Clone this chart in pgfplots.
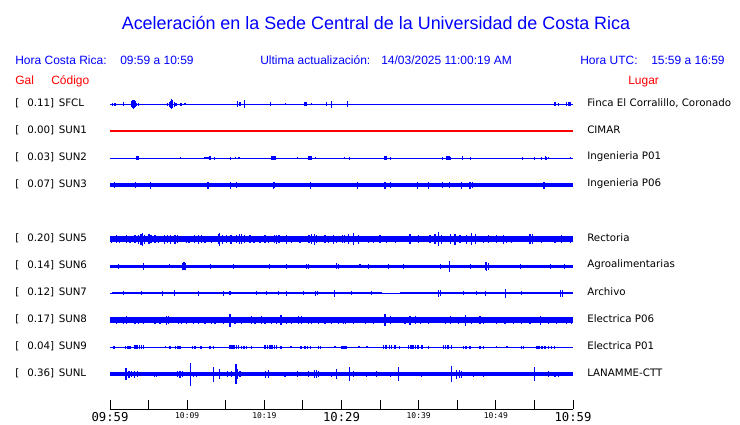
\documentclass[border=0pt]{standalone}
\usepackage{pgfplots}
\pgfplotsset{compat=1.18}
\usepackage{fontspec}
\setmainfont{DejaVu Sans}
\newfontfamily\arial{Liberation Sans}
\newfontfamily\mono{DejaVu Sans Mono}
\definecolor{pred}{RGB}{255,0,0}
\definecolor{pblue}{RGB}{0,0,255}
\newcommand\bigt[1]{{\mono\fontsize{9.2}{10}\selectfont #1}}
\newcommand\smt[1]{{\mono\fontsize{6}{7}\selectfont #1}}
\pgfplotsset{trace/.style={color=pblue, mark=none, line width=#1,
  error bars/y dir=both, error bars/y explicit, error bars/error mark=none,
  error bars/error bar style={line width=0.8pt, color=pblue}}}
\begin{document}
\begin{tikzpicture}[x=0.75pt,y=0.75pt]
\path (0,0) rectangle (740,423);
\begin{axis}[at={(82.5pt,10.4pt)}, anchor=south west, x=5.7875pt, y=0.75pt,
  xmin=0, xmax=60, ymin=15, ymax=333, clip=false,
  axis x line=bottom, axis y line=none, ytick=\empty,
  xtick={0,5,...,60},
  xticklabels={\bigt{09:59},{},\smt{10:09},{},\smt{10:19},{},\bigt{10:29},{},\smt{10:39},{},\smt{10:49},{},\bigt{10:59}},
  tick align=inside, major tick length=6.75pt,
  axis line style={black, line width=0.75pt, -},
  tick style={black, line width=0.75pt},
  xticklabel style={inner sep=2pt}]
% SFCL
\addplot[trace=0.9pt] coordinates {
(0,320) +- (0,0) (0.3,320) +- (0,1.5) (0.65,320) +- (0,1.5) (1.7,320) +- (0,2)
(2.85,320) +- (0,3) (2.95,320) +- (0,4) (3.05,320) +- (0,4.5) (3.15,320) +- (0,4) (3.25,320) +- (0,3) (3.35,320) +- (0,2) (3.45,320) +- (0,1.5)
(3.7,320) +- (0,1.5) (7.47,320) +- (0,1.5)
(7.7,320) +- (0,2.5) (7.85,320) +- (0,3.5) (7.95,320) +- (0,5) (8.05,320) +- (0,4) (8.15,320) +- (0,3.5) (8.3,320) +- (0,2.5) (8.45,320) +- (0,1.5) (8.6,320) +- (0,1.5)
(9.2,320) +- (0,1.5) (9.72,320) +- (0,1.2) (16.54,320) +- (0,3) (16.85,320) +- (0,1.8) (16.95,320) +- (0,1.8) (17.49,320) +- (0,4)
(20.82,320) +- (0,2) (22.72,320) +- (0,1.2) (25.27,320) +- (0,2) (25.4,320) +- (0,2) (26.13,320) +- (0,1.2) (28.08,320) +- (0,2) (28.73,320) +- (0,3.5)
(30.76,320) +- (0,3) (57.67,320) +- (0,2) (58.1,320) +- (0,1.5) (59.1,320) +- (0,2) (59.4,320) +- (0,2) (59.55,320) +- (0,2) (59.7,320) +- (0,2)
(60,320) +- (0,0)};
% SUN1
\addplot[color=pred, line width=1pt, mark=none] coordinates {(0,293) (60,293)};
% SUN2
\addplot[trace=0.9pt] coordinates {
(0,266) +- (0,0) (3.4,266) +- (0,1.8) (3.55,266) +- (0,1.8) (3.7,266) +- (0,1.8) (9.16,266) +- (0,1.2)
(12.31,266) +- (0,1) (12.5,266) +- (0,1) (12.7,266) +- (0,1) (12.96,266) +- (0,2) (13.52,266) +- (0,1.5) (15.64,266) +- (0,1.5) (16.28,266) +- (0,1.2) (16.72,266) +- (0,1.2)
(20.95,266) +- (0,1.8) (21.1,266) +- (0,1.8) (21.25,266) +- (0,1.8) (21.4,266) +- (0,1.8) (24.28,266) +- (0,0.8)
(25.79,266) +- (0,1.8) (25.95,266) +- (0,1.8) (26.1,266) +- (0,1.8) (26.57,266) +- (0,1.2) (30.37,266) +- (0,1.2) (31.02,266) +- (0,1.5)
(35.64,266) +- (0,1.8) (35.8,266) +- (0,1.8) (36.29,266) +- (0,1.5) (43.12,266) +- (0,1.5) (43.63,266) +- (0,1.8) (43.8,266) +- (0,1.8) (43.97,266) +- (0,1.8) (44.1,266) +- (0,1.5)
(45.62,266) +- (0,1.8) (45.72,266) +- (0,1.8) (46.66,266) +- (0,1.5) (53.44,266) +- (0,1.5) (55.0,266) +- (0,1.5) (55.95,266) +- (0,1.5) (56.38,266) +- (0,1.8) (56.5,266) +- (0,1.5) (56.81,266) +- (0,1) (59.62,266) +- (0,1)
(60,266) +- (0,0)};
% SUN3
\addplot[trace=2.7pt] coordinates {
(0,239) +- (0,0) (0.56,239) +- (0,3) (3.32,239) +- (0,3) (5.27,239) +- (0,3.5) (12.6,239) +- (0,3.5) (12.7,239) +- (0,3.5) (15.64,239) +- (0,3.5) (16.37,239) +- (0,3)
(21.17,239) +- (0,3.5) (21.25,239) +- (0,3) (25.98,239) +- (0,3.5) (32.06,239) +- (0,3.5) (35.64,239) +- (0,3.5) (36.29,239) +- (0,3) (39.88,239) +- (0,3.5) (41.26,239) +- (0,3.5)
(43.07,239) +- (0,3) (43.98,239) +- (0,3) (45.6,239) +- (0,3.5) (46.57,239) +- (0,3.5) (46.75,239) +- (0,3.5) (46.95,239) +- (0,3) (56.16,239) +- (0,3.5) (56.3,239) +- (0,3.5)
(60,239) +- (0,0)};
% SUN5
\addplot[trace=4.4pt] coordinates {
(0,185) +- (0,0) (0.21,185) +- (0,3.5) (0.86,185) +- (0,4) (1.29,185) +- (0,3.5) (2.16,185) +- (0,4) (2.59,185) +- (0,3.5) (3.24,185) +- (0,4) (3.67,185) +- (0,4.5)
(4.02,185) +- (0,5.5) (4.19,185) +- (0,6.5) (4.53,185) +- (0,4.5) (5.05,185) +- (0,5) (5.31,185) +- (0,4) (5.83,185) +- (0,4) (6.26,185) +- (0,3.5) (7.04,185) +- (0,4.5)
(7.47,185) +- (0,4) (7.9,185) +- (0,4.5) (8.42,185) +- (0,4.5) (8.77,185) +- (0,4) (9.93,185) +- (0,3.5) (10.24,185) +- (0,3.5) (11.01,185) +- (0,4) (11.45,185) +- (0,4.5)
(11.88,185) +- (0,4) (12.31,185) +- (0,3.5) (13.17,185) +- (0,3.5) (14.04,185) +- (0,5) (14.25,185) +- (0,6.5) (14.56,185) +- (0,4.5) (15.12,185) +- (0,4) (15.68,185) +- (0,4.5)
(16.41,185) +- (0,4) (16.76,185) +- (0,5) (17.06,185) +- (0,5) (17.41,185) +- (0,4) (18.14,185) +- (0,4) (18.66,185) +- (0,3.5) (19.44,185) +- (0,3.5) (20.09,185) +- (0,4)
(20.6,185) +- (0,3.5) (21.3,185) +- (0,4) (21.6,185) +- (0,4.5) (21.9,185) +- (0,4) (22.89,185) +- (0,4.5) (23.54,185) +- (0,3.5) (24.62,185) +- (0,3.5) (25.79,185) +- (0,4)
(26.13,185) +- (0,5) (26.48,185) +- (0,5.5) (26.78,185) +- (0,4) (27.86,185) +- (0,4) (28.29,185) +- (0,3.5) (28.94,185) +- (0,4.5) (29.37,185) +- (0,3.5) (30.1,185) +- (0,4)
(30.4,185) +- (0,4) (30.89,185) +- (0,5) (31.54,185) +- (0,6) (32.19,185) +- (0,4.5) (33.48,185) +- (0,3.5) (34.13,185) +- (0,3.5) (34.99,185) +- (0,4) (35.86,185) +- (0,3.5)
(36.94,185) +- (0,3.5) (38.88,185) +- (0,5) (39.96,185) +- (0,4) (41.47,185) +- (0,4) (42.12,185) +- (0,5) (42.55,185) +- (0,7) (42.99,185) +- (0,4.5) (44.07,185) +- (0,5)
(44.71,185) +- (0,5.5) (45.36,185) +- (0,4) (46.23,185) +- (0,4.5) (46.87,185) +- (0,6) (47.31,185) +- (0,5) (48.39,185) +- (0,3.5) (49.03,185) +- (0,4) (50.11,185) +- (0,4)
(50.98,185) +- (0,4.5) (51.41,185) +- (0,3.5) (52.06,185) +- (0,3.5) (54.43,185) +- (0,5) (54.78,185) +- (0,5) (55.95,185) +- (0,3.5) (57.67,185) +- (0,3.5) (58.54,185) +- (0,4)
(59.62,185) +- (0,3.5) (60,185) +- (0,0)};
% SUN6
\addplot[trace=2.4pt] coordinates {
(0,158) +- (0,0) (1.08,158) +- (0,2.5) (4.4,158) +- (0,3.5) (7.69,158) +- (0,2.2) (9.37,158) +- (0,3.5) (9.59,158) +- (0,4) (9.8,158) +- (0,3.5) (13.0,158) +- (0,2.5)
(15.98,158) +- (0,2.5) (20.65,158) +- (0,2.5) (22.89,158) +- (0,2.5) (25.49,158) +- (0,2.5) (25.7,158) +- (0,2.5) (29.37,158) +- (0,3) (29.59,158) +- (0,2.5)
(32.4,158) +- (0,1.8) (33.48,158) +- (0,2.5) (36.07,158) +- (0,2.5) (38.02,158) +- (0,2.5) (42.77,158) +- (0,2.5) (43.98,158) +- (0,5.5) (46.66,158) +- (0,2.5)
(48.6,158) +- (0,4) (48.82,158) +- (0,4.5) (49.03,158) +- (0,3.5) (53.14,158) +- (0,2.5) (57.03,158) +- (0,2.5) (58.84,158) +- (0,2.5) (60,158) +- (0,0)};
% SUN7
\addplot[color=pblue, line width=0.9pt, mark=none] coordinates {(0,131) (60,131)};
\addplot[trace=2pt] coordinates {
(0.25,131) +- (0,0) (1.73,131) +- (0,2) (4.1,131) +- (0,2) (6.78,131) +- (0,2.5) (8.34,131) +- (0,3) (11.45,131) +- (0,2.5) (14.69,131) +- (0,2.5) (15.55,131) +- (0,2)
(19.0,131) +- (0,2) (20.3,131) +- (0,2) (21.81,131) +- (0,2) (22.89,131) +- (0,2.5) (25.05,131) +- (0,2) (26.57,131) +- (0,2.5) (26.91,131) +- (0,2) (29.07,131) +- (0,3.5)
(31.32,131) +- (0,2) (33.91,131) +- (0,2) (35.2,131) +- (0,0)};
\addplot[trace=2pt] coordinates {
(37.6,131) +- (0,0) (42.55,131) +- (0,3.5) (42.77,131) +- (0,3) (45.79,131) +- (0,2) (47.52,131) +- (0,2) (48.6,131) +- (0,2.5) (51.28,131) +- (0,4.5) (53.35,131) +- (0,2)
(58.32,131) +- (0,3.5) (58.67,131) +- (0,3.5) (60,131) +- (0,0)};
% SUN8
\addplot[trace=4pt] coordinates {
(0,104) +- (0,0) (0.86,104) +- (0,3.5) (1.73,104) +- (0,3.5) (2.16,104) +- (0,4) (3.24,104) +- (0,3.5) (3.67,104) +- (0,3.5) (4.32,104) +- (0,3.5) (5.83,104) +- (0,3.5)
(6.48,104) +- (0,3.5) (7.34,104) +- (0,4.5) (7.56,104) +- (0,4) (8.85,104) +- (0,3.5) (9.29,104) +- (0,3.5) (9.93,104) +- (0,3.5) (10.8,104) +- (0,3.5) (11.45,104) +- (0,3.5)
(12.31,104) +- (0,3.5) (13.17,104) +- (0,3.5) (13.61,104) +- (0,3.5) (14.69,104) +- (0,3.5) (15.55,104) +- (0,6.5) (16.2,104) +- (0,3.5) (17.06,104) +- (0,3.5) (18.36,104) +- (0,4)
(18.79,104) +- (0,3.5) (19.65,104) +- (0,4) (20.09,104) +- (0,3.5) (20.95,104) +- (0,3.5) (21.6,104) +- (0,3.5) (22.16,104) +- (0,5) (22.89,104) +- (0,3.5) (23.54,104) +- (0,3.5)
(24.41,104) +- (0,4) (24.84,104) +- (0,4) (25.7,104) +- (0,3.5) (26.13,104) +- (0,3.5) (27.0,104) +- (0,3.5) (27.86,104) +- (0,3.5) (28.73,104) +- (0,3.5) (29.59,104) +- (0,3.5)
(30.2,104) +- (0,3.5) (30.46,104) +- (0,3.5) (31.54,104) +- (0,3.5) (33.05,104) +- (0,3.5) (34.13,104) +- (0,3.5) (35.64,104) +- (0,6) (36.29,104) +- (0,4) (38.23,104) +- (0,3.5)
(38.88,104) +- (0,4.5) (39.53,104) +- (0,4) (40.18,104) +- (0,3.5) (41.26,104) +- (0,3.5) (43.42,104) +- (0,3.5) (44.07,104) +- (0,4) (45.15,104) +- (0,3.5) (46.01,104) +- (0,5.5)
(46.87,104) +- (0,3.5) (47.95,104) +- (0,4) (48.39,104) +- (0,3.5) (50.11,104) +- (0,3.5) (51.19,104) +- (0,3.5) (52.27,104) +- (0,3.5) (53.35,104) +- (0,3.5) (54.43,104) +- (0,3.5)
(55.73,104) +- (0,4.5) (56.81,104) +- (0,3.5) (57.89,104) +- (0,3.5) (59.19,104) +- (0,3.5) (59.83,104) +- (0,3.5) (60,104) +- (0,0)};
% SUN9
\addplot[trace=0.9pt, error bars/error bar style={line width=1.2pt, color=pblue}] coordinates {
(0,77) +- (0,0) (0.52,77) +- (0,1.5) (2.03,77) +- (0,1.5) (2.3,77) +- (0,1.5) (2.59,77) +- (0,1.5) (3.24,77) +- (0,1.8) (3.5,77) +- (0,1.8) (3.8,77) +- (0,1.8) (4.1,77) +- (0,1.8) (4.32,77) +- (0,1.8)
(7.21,77) +- (0,1.2) (7.77,77) +- (0,1.5) (8.51,77) +- (0,1.5) (8.8,77) +- (0,1.5) (9.07,77) +- (0,1.5) (10.67,77) +- (0,1.5) (11.0,77) +- (0,1.5) (11.79,77) +- (0,1.5) (12.96,77) +- (0,1.5) (13.39,77) +- (0,1.5)
(15.55,77) +- (0,1.8) (15.8,77) +- (0,1.8) (16.1,77) +- (0,1.8) (16.41,77) +- (0,1.8) (16.63,77) +- (0,1.8) (17.06,77) +- (0,1.5) (17.4,77) +- (0,1.5) (17.7,77) +- (0,1.5) (18.36,77) +- (0,1.5)
(20.09,77) +- (0,1.8) (20.4,77) +- (0,1.8) (20.7,77) +- (0,1.8) (21.0,77) +- (0,1.8) (21.3,77) +- (0,1.8) (21.6,77) +- (0,1.8) (22.16,77) +- (0,1.5) (23.46,77) +- (0,1.2) (24.75,77) +- (0,1.5)
(25.27,77) +- (0,1.5) (25.6,77) +- (0,1.5) (26.0,77) +- (0,1.5) (27.0,77) +- (0,1.5) (27.3,77) +- (0,1.5) (29.16,77) +- (0,1.2) (30.03,77) +- (0,1.5) (30.3,77) +- (0,1.5) (30.6,77) +- (0,1.5)
(32.27,77) +- (0,1.2) (33.27,77) +- (0,1.2) (35.43,77) +- (0,1.8) (35.8,77) +- (0,1.8) (36.2,77) +- (0,1.8) (36.5,77) +- (0,1.8) (36.94,77) +- (0,1.8) (37.5,77) +- (0,1.5)
(38.67,77) +- (0,1.8) (39.0,77) +- (0,1.8) (39.3,77) +- (0,1.8) (39.6,77) +- (0,1.8) (39.9,77) +- (0,1.8) (40.4,77) +- (0,1.8) (41.26,77) +- (0,1.5)
(43.2,77) +- (0,1.8) (43.5,77) +- (0,1.8) (43.8,77) +- (0,1.8) (44.28,77) +- (0,1.8) (45.79,77) +- (0,1.5) (46.1,77) +- (0,1.5) (46.66,77) +- (0,1.5) (47.95,77) +- (0,1.5) (48.39,77) +- (0,1.5)
(50.11,77) +- (0,1.2) (51.41,77) +- (0,1.2) (53.35,77) +- (0,1.5) (53.57,77) +- (0,1.5) (55.3,77) +- (0,1.5) (55.6,77) +- (0,1.5) (56.0,77) +- (0,1.5) (56.4,77) +- (0,1.5) (56.8,77) +- (0,1.5) (57.2,77) +- (0,1.5) (57.6,77) +- (0,1.5)
(60,77) +- (0,0)};
% SUNL
\addplot[trace=2.5pt] coordinates {
(0,50) +- (0,0) (2.07,50) +- (0,6) (2.46,50) +- (0,3.5) (2.81,50) +- (0,3) (3.15,50) +- (0,3.5) (3.54,50) +- (0,3) (5.74,50) +- (0,2.5) (6.05,50) +- (0,2.5)
(8.77,50) +- (0,3) (9.07,50) +- (0,3.5) (9.37,50) +- (0,3) (10.41,50) +- (0,11.5) (10.8,50) +- (0,2.5) (11.23,50) +- (0,2.5) (13.39,50) +- (0,7.5) (14.25,50) +- (0,5)
(15.25,50) +- (0,3) (15.77,50) +- (0,3) (16.33,50) +- (0,10) (16.54,50) +- (0,5) (16.85,50) +- (0,3) (20.17,50) +- (0,3.5) (20.6,50) +- (0,4) (22.68,50) +- (0,2.5)
(24.32,50) +- (0,3) (25.7,50) +- (0,3) (26.48,50) +- (0,4) (26.78,50) +- (0,4) (27.0,50) +- (0,3) (28.73,50) +- (0,2.5) (29.37,50) +- (0,5)
(31.02,50) +- (0,7) (31.54,50) +- (0,3) (33.27,50) +- (0,2.5) (34.48,50) +- (0,3) (36.29,50) +- (0,2.5) (37.37,50) +- (0,7) (40.39,50) +- (0,2.5)
(44.28,50) +- (0,8) (44.93,50) +- (0,4.5) (45.28,50) +- (0,4) (45.58,50) +- (0,3.5) (47.09,50) +- (0,2.5) (48.39,50) +- (0,2.5) (54.95,50) +- (0,7)
(56.81,50) +- (0,3) (57.67,50) +- (0,2.5) (58.1,50) +- (0,2.5) (60,50) +- (0,0)};
\end{axis}
% Titles
\node[anchor=base, font=\arial\fontsize{13.45}{15}\selectfont, text=pblue, inner sep=0] at (376,393.5) {Aceleración en la Sede Central de la Universidad de Costa Rica};
\begin{scope}[every node/.style={anchor=base west, inner sep=0, text=pblue, font=\arial\fontsize{9}{10}\selectfont}]
\node at (15,358.5) {Hora Costa Rica:};
\node at (120,358.5) {09:59 a 10:59};
\node at (260,358.5) {Ultima actualización:};
\node at (381,358.5) {14/03/2025 11:00:19 AM};
\node at (580,358.5) {Hora UTC:};
\node at (651,358.5) {15:59 a 16:59};
\node[text=pred] at (15,338.5) {Gal};
\node[text=pred] at (51,338.5) {Código};
\node[text=pred] at (628,338.5) {Lugar};
\end{scope}
\begin{scope}[every node/.style={inner sep=0, font=\fontsize{7.7}{9}\selectfont}]
\foreach \v/\c/\l/\y in {0.11/SFCL/{Finca El Corralillo, Coronado}/103, 0.00/SUN1/CIMAR/130, 0.03/SUN2/Ingenieria P01/157, 0.07/SUN3/Ingenieria P06/184, 0.20/SUN5/Rectoria/238, 0.14/SUN6/Agroalimentarias/265, 0.12/SUN7/Archivo/292, 0.17/SUN8/Electrica P06/319, 0.04/SUN9/Electrica P01/346, 0.36/SUNL/LANAMME-CTT/373}{
  \node[anchor=west] at (15,423-\y) {[};
  \node[anchor=east] at (54.5,423-\y) {\v]};
  \node[anchor=west] at (58.5,423-\y) {\c};
  \node[anchor=west] at (587,423-\y) {\l};
}
\end{scope}
\end{tikzpicture}
\end{document}
